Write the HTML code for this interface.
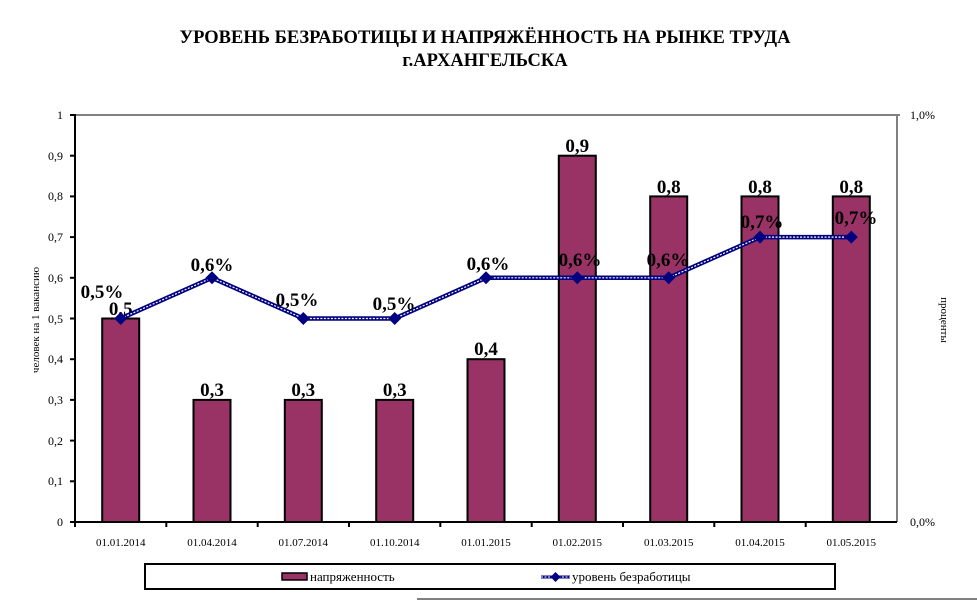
<!DOCTYPE html>
<html><head><meta charset="utf-8"><style>
html,body{margin:0;padding:0;background:#fff;width:977px;height:603px;overflow:hidden}
svg text{font-family:"Liberation Serif","DejaVu Serif",serif}
</style></head><body>
<svg width="977" height="603" viewBox="0 0 977 603" xmlns="http://www.w3.org/2000/svg">
<text x="485" y="43" text-anchor="middle" font-size="18.5" font-weight="bold">УРОВЕНЬ БЕЗРАБОТИЦЫ И НАПРЯЖЁННОСТЬ НА РЫНКЕ ТРУДА</text>
<text x="485" y="66" text-anchor="middle" font-size="18.5" font-weight="bold">г.АРХАНГЕЛЬСКА</text>
<!-- frame -->
<line x1="75" y1="115" x2="900" y2="115" stroke="#808080" stroke-width="2"/>
<line x1="897" y1="115" x2="897" y2="522" stroke="#808080" stroke-width="2"/>
<line x1="75" y1="114" x2="75" y2="523" stroke="#000" stroke-width="2"/>
<line x1="72" y1="522" x2="897" y2="522" stroke="#000" stroke-width="2"/>
<g stroke="#000" stroke-width="2">
<line x1="70" y1="115" x2="75" y2="115"/><line x1="70" y1="155.7" x2="75" y2="155.7"/><line x1="70" y1="196.4" x2="75" y2="196.4"/><line x1="70" y1="237.1" x2="75" y2="237.1"/><line x1="70" y1="277.8" x2="75" y2="277.8"/><line x1="70" y1="318.5" x2="75" y2="318.5"/><line x1="70" y1="359.2" x2="75" y2="359.2"/><line x1="70" y1="399.9" x2="75" y2="399.9"/><line x1="70" y1="440.6" x2="75" y2="440.6"/><line x1="70" y1="481.3" x2="75" y2="481.3"/><line x1="70" y1="522" x2="75" y2="522"/>
<line x1="75" y1="522" x2="75" y2="527"/><line x1="166.3" y1="522" x2="166.3" y2="527"/><line x1="257.7" y1="522" x2="257.7" y2="527"/><line x1="349" y1="522" x2="349" y2="527"/><line x1="440.3" y1="522" x2="440.3" y2="527"/><line x1="531.7" y1="522" x2="531.7" y2="527"/><line x1="623" y1="522" x2="623" y2="527"/><line x1="714.3" y1="522" x2="714.3" y2="527"/><line x1="805.7" y1="522" x2="805.7" y2="527"/>
</g>
<g font-size="12" text-anchor="end" fill="#000">
<text x="63" y="119">1</text><text x="63" y="160">0,9</text><text x="63" y="200">0,8</text><text x="63" y="241">0,7</text><text x="63" y="282">0,6</text><text x="63" y="323">0,5</text><text x="63" y="363">0,4</text><text x="63" y="404">0,3</text><text x="63" y="445">0,2</text><text x="63" y="485">0,1</text><text x="63" y="526">0</text>
</g>
<text x="910" y="119" font-size="12">1,0%</text>
<text x="910" y="526" font-size="12">0,0%</text>
<text transform="translate(39,320) rotate(-90)" font-size="11" text-anchor="middle">человек на 1 вакансию</text>
<text transform="translate(941,320) rotate(90)" font-size="11" text-anchor="middle">проценты</text>
<!-- bars -->
<g fill="#993366" stroke="#000" stroke-width="2">
<rect x="102.2" y="318.5" width="37" height="203.5"/>
<rect x="193.5" y="399.9" width="37" height="122.1"/>
<rect x="284.8" y="399.9" width="37" height="122.1"/>
<rect x="376.2" y="399.9" width="37" height="122.1"/>
<rect x="467.5" y="359.2" width="37" height="162.8"/>
<rect x="558.8" y="155.7" width="37" height="366.3"/>
<rect x="650.2" y="196.4" width="37" height="325.6"/>
<rect x="741.5" y="196.4" width="37" height="325.6"/>
<rect x="832.8" y="196.4" width="37" height="325.6"/>
</g>
<g font-size="19" font-weight="bold" text-anchor="middle">
<text x="120.7" y="315">0,5</text><text x="212" y="396">0,3</text><text x="303.3" y="396">0,3</text><text x="394.7" y="396">0,3</text><text x="486" y="355">0,4</text><text x="577.3" y="152">0,9</text><text x="668.7" y="193">0,8</text><text x="760" y="193">0,8</text><text x="851.3" y="193">0,8</text>
</g>
<!-- line -->
<polyline points="120.7,318.5 212,277.8 303.3,318.5 394.7,318.5 486,277.8 577.3,277.8 668.7,277.8 760,237.1 851.3,237.1" fill="none" stroke="#000080" stroke-width="4.5"/>
<polyline points="120.7,318.5 212,277.8 303.3,318.5 394.7,318.5 486,277.8 577.3,277.8 668.7,277.8 760,237.1 851.3,237.1" fill="none" stroke="#fff" stroke-width="1.2" stroke-dasharray="2,1.5"/>
<g fill="#000080">
<path d="M120.7,312 l6.5,6.5 l-6.5,6.5 l-6.5,-6.5z"/><path d="M212,271.3 l6.5,6.5 l-6.5,6.5 l-6.5,-6.5z"/><path d="M303.3,312 l6.5,6.5 l-6.5,6.5 l-6.5,-6.5z"/><path d="M394.7,312 l6.5,6.5 l-6.5,6.5 l-6.5,-6.5z"/><path d="M486,271.3 l6.5,6.5 l-6.5,6.5 l-6.5,-6.5z"/><path d="M577.3,271.3 l6.5,6.5 l-6.5,6.5 l-6.5,-6.5z"/><path d="M668.7,271.3 l6.5,6.5 l-6.5,6.5 l-6.5,-6.5z"/><path d="M760,230.6 l6.5,6.5 l-6.5,6.5 l-6.5,-6.5z"/><path d="M851.3,230.6 l6.5,6.5 l-6.5,6.5 l-6.5,-6.5z"/>
</g>
<g font-size="19" font-weight="bold" text-anchor="middle">
<text x="102" y="298">0,5%</text><text x="212" y="271">0,6%</text><text x="297" y="306">0,5%</text><text x="394" y="310">0,5%</text><text x="488" y="270">0,6%</text><text x="580" y="266">0,6%</text><text x="668" y="266">0,6%</text><text x="762" y="228">0,7%</text><text x="856" y="224">0,7%</text>
</g>
<g font-size="11" text-anchor="middle">
<text x="120.7" y="546">01.01.2014</text><text x="212" y="546">01.04.2014</text><text x="303.3" y="546">01.07.2014</text><text x="394.7" y="546">01.10.2014</text><text x="486" y="546">01.01.2015</text><text x="577.3" y="546">01.02.2015</text><text x="668.7" y="546">01.03.2015</text><text x="760" y="546">01.04.2015</text><text x="851.3" y="546">01.05.2015</text>
</g>
<!-- legend -->
<rect x="145" y="564" width="690" height="25" fill="#fff" stroke="#000" stroke-width="2"/>
<rect x="282" y="573" width="25" height="7" fill="#993366" stroke="#000" stroke-width="1.5"/>
<text x="310" y="581" font-size="13">напряженность</text>
<line x1="541" y1="577" x2="570" y2="577" stroke="#000080" stroke-width="3"/>
<line x1="541" y1="577" x2="570" y2="577" stroke="#fff" stroke-width="1" stroke-dasharray="2,1.5"/>
<path d="M555.5,572 l5,5 l-5,5 l-5,-5z" fill="#000080"/>
<text x="572" y="581" font-size="13">уровень безработицы</text>
<line x1="417" y1="599" x2="977" y2="599" stroke="#000" stroke-width="1"/>
</svg>
</body></html>
